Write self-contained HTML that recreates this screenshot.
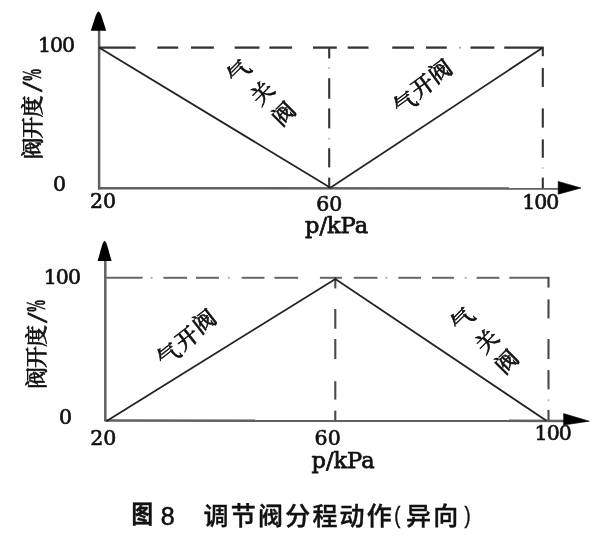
<!DOCTYPE html>
<html><head><meta charset="utf-8"><title>调节阀分程动作(异向)</title>
<style>
html,body{margin:0;padding:0;background:#fff;}
body{width:606px;height:545px;overflow:hidden;}
svg{display:block;filter:blur(0.4px);}
.n{font-family:'DejaVu Serif', 'Liberation Serif', serif;fill:#111;stroke:#111;stroke-width:0.65px;}
.c{font-family:'Liberation Serif', 'Noto Serif CJK SC', serif;fill:#111;font-weight:500;stroke:#111;stroke-width:0.65px;}
.s{font-family:'Liberation Serif',serif;fill:#111;stroke:#111;stroke-width:0.6px;}
.cap{font-family:'Liberation Sans', 'Noto Sans CJK SC', sans-serif;fill:#111;font-weight:500;letter-spacing:2.2px;stroke:#111;stroke-width:0.4px;}
</style></head>
<body>
<svg width="606" height="545" viewBox="0 0 606 545">
<rect width="606" height="545" fill="#fff"/>
<line x1="99.1" y1="29" x2="99.1" y2="189.5" stroke="#606060" stroke-width="2.5"/>
<line x1="98.2" y1="188.3" x2="559" y2="188.4" stroke="#606060" stroke-width="2.5"/>
<path d="M98.6 11.2 Q100.3 12.5 101.5 16 L106.2 30.8 L90.8 30.8 L95.6 16 Q96.8 12.5 98.6 11.2 Z" fill="#000"/>
<path d="M581 188 L558.2 181.4 L558.2 194.2 Z" fill="#000" stroke="#000" stroke-width="0.6" stroke-linejoin="round"/>
<line x1="99" y1="47.6" x2="135.6" y2="47.6" stroke="#333" stroke-width="2.3"/>
<line x1="157.4" y1="47.6" x2="178.2" y2="47.6" stroke="#333" stroke-width="2.3"/>
<line x1="191" y1="47.6" x2="213.9" y2="47.6" stroke="#333" stroke-width="2.3"/>
<line x1="234.7" y1="47.6" x2="259.5" y2="47.6" stroke="#333" stroke-width="2.3"/>
<line x1="269.4" y1="47.6" x2="292.1" y2="47.6" stroke="#333" stroke-width="2.3"/>
<line x1="313" y1="47.6" x2="336.8" y2="47.6" stroke="#333" stroke-width="2.3"/>
<line x1="347.7" y1="47.6" x2="368.5" y2="47.6" stroke="#333" stroke-width="2.3"/>
<line x1="392.2" y1="47.6" x2="414" y2="47.6" stroke="#333" stroke-width="2.3"/>
<line x1="426" y1="47.6" x2="446.8" y2="47.6" stroke="#333" stroke-width="2.3"/>
<line x1="470.5" y1="47.6" x2="494.3" y2="47.6" stroke="#333" stroke-width="2.3"/>
<line x1="504.2" y1="47.6" x2="543.5" y2="47.6" stroke="#333" stroke-width="2.3"/>
<line x1="329.2" y1="47" x2="329.2" y2="58.4" stroke="#333" stroke-width="2.1"/>
<line x1="329.2" y1="78.2" x2="329.2" y2="98.8" stroke="#333" stroke-width="2.1"/>
<line x1="329.2" y1="108.4" x2="329.2" y2="128.4" stroke="#333" stroke-width="2.1"/>
<line x1="329.2" y1="148.2" x2="329.2" y2="167.4" stroke="#333" stroke-width="2.1"/>
<line x1="329.2" y1="177.6" x2="329.2" y2="188" stroke="#333" stroke-width="2.1"/>
<line x1="542.8" y1="47" x2="542.8" y2="56.2" stroke="#333" stroke-width="2.1"/>
<line x1="542.8" y1="68" x2="542.8" y2="87" stroke="#333" stroke-width="2.1"/>
<line x1="542.8" y1="108.4" x2="542.8" y2="127.6" stroke="#333" stroke-width="2.1"/>
<line x1="542.8" y1="139.4" x2="542.8" y2="157.8" stroke="#333" stroke-width="2.1"/>
<line x1="542.8" y1="177.6" x2="542.8" y2="188" stroke="#333" stroke-width="2.1"/>
<rect x="459.0" y="46.7" width="2.0" height="1.8" fill="#aaa"/>
<rect x="328.3" y="67.0" width="1.8" height="2.0" fill="#bbb"/>
<rect x="328.3" y="137.7" width="1.8" height="2.0" fill="#bbb"/>
<rect x="541.9" y="167.0" width="1.8" height="2.0" fill="#ccc"/>
<polyline points="99,47.6 330.4,187.7 542.6,47.8" fill="none" stroke="#222" stroke-width="1.8"/>
<text x="38" y="51.8" font-size="20.5" letter-spacing="-1" class="n">100</text>
<text x="53" y="191.4" font-size="20.5" class="n">0</text>
<text x="90" y="207.9" font-size="20.5" class="n">20</text>
<text x="316.3" y="211.2" font-size="20.5" class="n">60</text>
<text x="522.2" y="209.2" font-size="20.5" letter-spacing="-1" class="n">100</text>
<text x="305" y="232.9" font-size="22.5" class="n" style="stroke-width:0.75px">p/kPa</text>
<text transform="translate(32 159.5) rotate(-90)" x="0" y="0" text-anchor="start" dominant-baseline="central" font-size="22" letter-spacing="-1" class="c">阀开度</text>
<text transform="translate(32 86.7) rotate(-90) scale(1.25 1)" x="0" y="0" text-anchor="middle" dominant-baseline="central" font-size="30" class="s">/</text>
<text transform="translate(32 75.0) rotate(-90) scale(0.5 1)" x="0" y="0" text-anchor="middle" dominant-baseline="central" font-size="27" class="s" font-weight="bold">%</text>
<text transform="translate(239.2 72) rotate(-45)" x="0" y="0" text-anchor="middle" dominant-baseline="central" font-size="22.5" class="c">气</text>
<text transform="translate(263 93.5) rotate(-45)" x="0" y="0" text-anchor="middle" dominant-baseline="central" font-size="22.5" class="c">关</text>
<text transform="translate(284.2 114.3) rotate(-45)" x="0" y="0" text-anchor="middle" dominant-baseline="central" font-size="22.5" class="c">阀</text>
<text transform="translate(405.4 103.4) rotate(-36)" x="0" y="0" text-anchor="middle" dominant-baseline="central" font-size="22.5" class="c">气</text>
<text transform="translate(423 86.6) rotate(-36)" x="0" y="0" text-anchor="middle" dominant-baseline="central" font-size="22.5" class="c">开</text>
<text transform="translate(440.7 71.8) rotate(-36)" x="0" y="0" text-anchor="middle" dominant-baseline="central" font-size="22.5" class="c">阀</text>
<line x1="105.3" y1="259" x2="105.3" y2="421" stroke="#606060" stroke-width="2.5"/>
<line x1="104.5" y1="420.6" x2="564" y2="420.9" stroke="#606060" stroke-width="2.5"/>
<path d="M104.6 240.8 Q106.2 242 107.2 245.5 L111.6 261 L97.6 261 L102 245.5 Q103 242 104.6 240.8 Z" fill="#000"/>
<path d="M589.3 421.2 L563.6 413.6 L563.6 425 Z" fill="#000" stroke="#000" stroke-width="0.6" stroke-linejoin="round"/>
<line x1="105" y1="277.8" x2="142.6" y2="277.8" stroke="#666" stroke-width="2"/>
<line x1="163.4" y1="277.8" x2="187.1" y2="277.8" stroke="#666" stroke-width="2"/>
<line x1="196" y1="277.8" x2="218.9" y2="277.8" stroke="#666" stroke-width="2"/>
<line x1="241.7" y1="277.8" x2="264.5" y2="277.8" stroke="#666" stroke-width="2"/>
<line x1="274.4" y1="277.8" x2="298.1" y2="277.8" stroke="#666" stroke-width="2"/>
<line x1="319.9" y1="277.8" x2="341.9" y2="277.8" stroke="#666" stroke-width="2"/>
<line x1="353.8" y1="277.8" x2="377.5" y2="277.8" stroke="#666" stroke-width="2"/>
<line x1="398.3" y1="277.8" x2="421" y2="277.8" stroke="#666" stroke-width="2"/>
<line x1="432" y1="277.8" x2="453.9" y2="277.8" stroke="#666" stroke-width="2"/>
<line x1="476.6" y1="277.8" x2="499.4" y2="277.8" stroke="#666" stroke-width="2"/>
<line x1="509.3" y1="277.8" x2="549" y2="277.8" stroke="#666" stroke-width="2"/>
<line x1="335.3" y1="277" x2="335.3" y2="288.4" stroke="#484848" stroke-width="2.1"/>
<line x1="335.3" y1="309" x2="335.3" y2="328.8" stroke="#484848" stroke-width="2.1"/>
<line x1="335.3" y1="339" x2="335.3" y2="359.1" stroke="#484848" stroke-width="2.1"/>
<line x1="335.3" y1="381.2" x2="335.3" y2="399.6" stroke="#484848" stroke-width="2.1"/>
<line x1="335.3" y1="410.6" x2="335.3" y2="420.5" stroke="#484848" stroke-width="2.1"/>
<line x1="548.5" y1="277" x2="548.5" y2="287.6" stroke="#484848" stroke-width="2.1"/>
<line x1="548.5" y1="299.4" x2="548.5" y2="318.5" stroke="#484848" stroke-width="2.1"/>
<line x1="548.5" y1="339" x2="548.5" y2="359.1" stroke="#484848" stroke-width="2.1"/>
<line x1="548.5" y1="370.1" x2="548.5" y2="389.3" stroke="#484848" stroke-width="2.1"/>
<line x1="548.5" y1="409.9" x2="548.5" y2="420.5" stroke="#484848" stroke-width="2.1"/>
<rect x="150.5" y="276.90000000000003" width="2.0" height="1.8" fill="#aaa"/>
<rect x="227.8" y="276.90000000000003" width="2.0" height="1.8" fill="#aaa"/>
<rect x="385.4" y="276.90000000000003" width="2.0" height="1.8" fill="#aaa"/>
<rect x="464.7" y="276.90000000000003" width="2.0" height="1.8" fill="#aaa"/>
<rect x="547.6" y="399.3" width="1.8" height="2.0" fill="#bbb"/>
<polyline points="106.3,421.2 335.4,279 546.5,420.8" fill="none" stroke="#222" stroke-width="1.8"/>
<text x="43.8" y="284.3" font-size="20.5" letter-spacing="-1" class="n">100</text>
<text x="59" y="424.3" font-size="20.5" class="n">0</text>
<text x="90.3" y="445.3" font-size="20.5" class="n">20</text>
<text x="314.6" y="445.4" font-size="20.5" class="n">60</text>
<text x="534.6" y="440.3" font-size="20.5" letter-spacing="-1" class="n">100</text>
<text x="311.5" y="467.7" font-size="22.5" class="n" style="stroke-width:0.75px">p/kPa</text>
<text transform="translate(36.5 389) rotate(-90)" x="0" y="0" text-anchor="start" dominant-baseline="central" font-size="22" letter-spacing="-1" class="c">阀开度</text>
<text transform="translate(36.5 317.7) rotate(-90) scale(1.25 1)" x="0" y="0" text-anchor="middle" dominant-baseline="central" font-size="30" class="s">/</text>
<text transform="translate(36.5 306.0) rotate(-90) scale(0.5 1)" x="0" y="0" text-anchor="middle" dominant-baseline="central" font-size="27" class="s" font-weight="bold">%</text>
<text transform="translate(169.1 355.2) rotate(-38)" x="0" y="0" text-anchor="middle" dominant-baseline="central" font-size="22.5" class="c">气</text>
<text transform="translate(187.3 338.6) rotate(-38)" x="0" y="0" text-anchor="middle" dominant-baseline="central" font-size="22.5" class="c">开</text>
<text transform="translate(204.7 321.8) rotate(-38)" x="0" y="0" text-anchor="middle" dominant-baseline="central" font-size="22.5" class="c">阀</text>
<text transform="translate(463 319.8) rotate(-45)" x="0" y="0" text-anchor="middle" dominant-baseline="central" font-size="22.5" class="c">气</text>
<text transform="translate(487.3 341.4) rotate(-45)" x="0" y="0" text-anchor="middle" dominant-baseline="central" font-size="22.5" class="c">关</text>
<text transform="translate(507.2 362.3) rotate(-45)" x="0" y="0" text-anchor="middle" dominant-baseline="central" font-size="22.5" class="c">阀</text>
<text transform="translate(131.6 523) scale(0.88 1)" x="0" y="0" font-size="24.5" class="cap" style="font-weight:bold">图</text>
<text x="160.8" y="524.5" font-size="25" class="cap" style="font-weight:normal;stroke:#111;stroke-width:0.6px">8</text>
<text x="203.6" y="525" font-size="25" class="cap">调节阀分程动作</text>
<text transform="translate(394.3 523) scale(0.8 1)" font-size="23" class="cap">(</text>
<text x="406" y="525" font-size="25" class="cap">异向</text>
<text transform="translate(464.6 523) scale(0.8 1)" font-size="23" class="cap">)</text>
</svg>
</body></html>
